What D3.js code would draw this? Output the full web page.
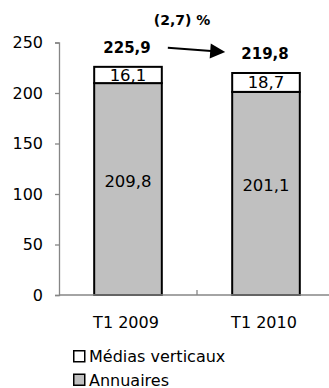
<!DOCTYPE html>
<html><head><meta charset="utf-8">
<script src="https://cdn.jsdelivr.net/npm/d3@7"></script>
<style>
html,body{margin:0;padding:0;background:#fff;}
text{font-family:"DejaVu Sans",sans-serif;fill:#000;}
</style></head>
<body><svg id="c" width="329" height="388"></svg>
<script>
const categories = ["T1 2009", "T1 2010"];
const annuaires = [209.8, 201.1];
const mediasVerticaux = [16.1, 18.7];
const totals = [225.9, 219.8];
const yTicks = [0, 50, 100, 150, 200, 250];
const seriesNames = ["Médias verticaux", "Annuaires"];
const changeLabel = "(2,7) %";
const fmt = v => String(v).replace(".", ",");

const svg = d3.select("#c");
const x = d3.scaleBand().domain(categories).range([59, 335]).padding(0);
const y = d3.scaleLinear().domain([0, 250]).range([295, 42.5]);
const bw = x.bandwidth() * 0.49;
const cx = c => x(c) + x.bandwidth() / 2;
const axisColor = "#868686";

// y axis
const ya = svg.append("g").attr("transform", "translate(59,0)")
  .call(d3.axisLeft(y).tickValues(yTicks).tickSize(4).tickPadding(12).tickFormat(d => d));
ya.select(".domain").attr("stroke", axisColor).attr("stroke-width", 1.3);
ya.selectAll(".tick line").attr("stroke", axisColor).attr("stroke-width", 1.3);
ya.selectAll(".tick text").attr("font-size", 16).attr("font-family", "DejaVu Sans").attr("fill", "#000");

// bars
const gBars = svg.append("g");
categories.forEach((c, i) => {
  const x0 = cx(c) - bw / 2;
  gBars.append("rect").attr("x", x0).attr("width", bw)
    .attr("y", y(annuaires[i])).attr("height", y(0) - y(annuaires[i]))
    .attr("fill", "#c0c0c0").attr("stroke", "#000").attr("stroke-width", 2);
  gBars.append("rect").attr("x", x0).attr("width", bw)
    .attr("y", y(annuaires[i] + mediasVerticaux[i])).attr("height", y(annuaires[i]) - y(annuaires[i] + mediasVerticaux[i]))
    .attr("fill", "#fff").attr("stroke", "#000").attr("stroke-width", 2);
  gBars.append("text").attr("x", cx(c)).attr("y", (y(annuaires[i]) + y(0)) / 2 - 8)
    .attr("dy", "0.35em").attr("text-anchor", "middle").attr("font-size", 16.5).text(fmt(annuaires[i]));
  gBars.append("text").attr("x", cx(c)).attr("y", (y(annuaires[i]) + y(annuaires[i] + mediasVerticaux[i])) / 2)
    .attr("dy", "0.35em").attr("text-anchor", "middle").attr("font-size", 16.5).text(fmt(mediasVerticaux[i]));
  gBars.append("text").attr("x", cx(c) - 1).attr("y", y(totals[i]) - 14)
    .attr("text-anchor", "middle").attr("font-size", 15).attr("font-weight", "bold").text(fmt(totals[i]));
});

// x axis
const xa = svg.append("g").attr("transform", "translate(0,295)");
xa.append("line").attr("x1", 59).attr("x2", 335).attr("y1", 0).attr("y2", 0)
  .attr("stroke", axisColor).attr("stroke-width", 1.3);
xa.append("line").attr("x1", x(categories[1])).attr("x2", x(categories[1])).attr("y1", 0).attr("y2", -5)
  .attr("stroke", axisColor).attr("stroke-width", 1.3);
categories.forEach(c => {
  xa.append("text").attr("x", cx(c) - 2).attr("y", 33).attr("text-anchor", "middle")
    .attr("font-size", 16).text(c);
});

// arrow
const ax1 = cx(categories[0]) + bw / 2 + 6, ay1 = y(totals[0]) - 19;
const ax2 = cx(categories[1]) - bw / 2 - 7, ay2 = y(totals[1]) - 21;
const ang = Math.atan2(ay2 - ay1, ax2 - ax1);
const hl = 15, hw = 7.5;
const bx = ax2 - hl * Math.cos(ang), by = ay2 - hl * Math.sin(ang);
svg.append("line").attr("x1", ax1).attr("y1", ay1).attr("x2", bx + 1).attr("y2", by)
  .attr("stroke", "#000").attr("stroke-width", 2);
svg.append("path").attr("d", `M${ax2},${ay2}L${bx - hw * Math.sin(ang)},${by + hw * Math.cos(ang)}L${bx + hw * Math.sin(ang)},${by - hw * Math.cos(ang)}Z`)
  .attr("fill", "#000");
svg.append("text").attr("x", (cx(categories[0]) + cx(categories[1])) / 2 - 15).attr("y", 25)
  .attr("text-anchor", "middle").attr("font-size", 14).attr("font-weight", "bold").text(changeLabel);

// legend
const fills = ["#fff", "#c0c0c0"];
seriesNames.forEach((n, i) => {
  const g = svg.append("g").attr("transform", `translate(73,${350 + i * 23.5})`);
  g.append("rect").attr("x", 0.75).attr("y", 0.75).attr("width", 11).attr("height", 11)
    .attr("fill", fills[i]).attr("stroke", "#000").attr("stroke-width", 1.5);
  g.append("text").attr("x", 16).attr("y", 12).attr("font-size", 16).text(n);
});
</script></body></html>
